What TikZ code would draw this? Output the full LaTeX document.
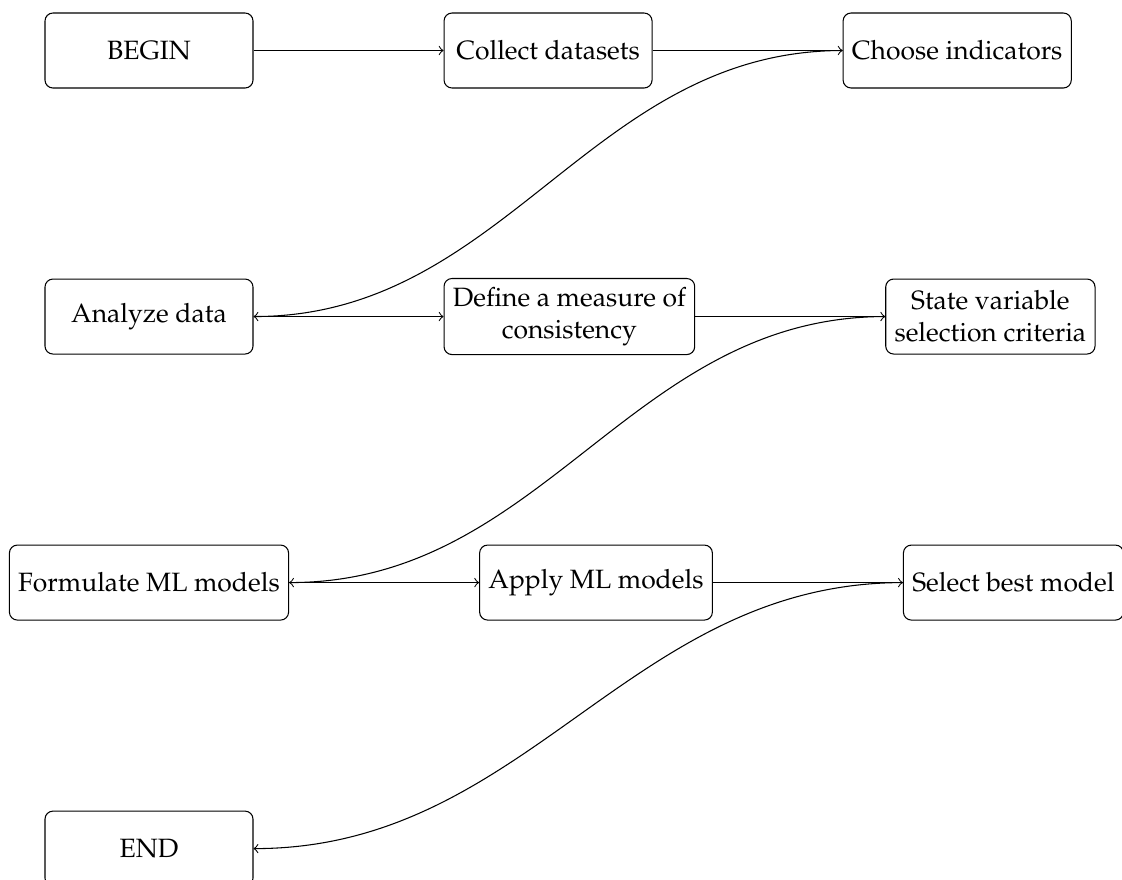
\documentclass[tikz,border=0pt]{standalone}
\usepackage[T1]{fontenc}
\usepackage{mathpazo}
\usetikzlibrary{positioning}
\tikzset{
  stepbox/.style={draw, rounded corners=3pt, minimum width=78.5pt, minimum height=28.3pt, align=center, inner sep=3.33pt, line width=0.4pt},
  link/.style={->, line width=0.4pt}
}
\begin{document}
\begin{tikzpicture}[x=0.3774pt, y=-0.3774pt, node distance=71.7pt]
\useasboundingbox (0,0) rectangle (1122,880);
\node[stepbox] (begin) at (149,50.5) {BEGIN};
\node[stepbox, right=of begin] (collect) {Collect datasets};
\node[stepbox, right=of collect] (choose) {Choose indicators};
\node[stepbox, below=of begin] (analyze) {Analyze data};
\node[stepbox, right=of analyze] (define) {Define a measure of\\consistency};
\node[stepbox, right=of define] (state) {State variable\\selection criteria};
\node[stepbox, below=of analyze] (formulate) {Formulate ML models};
\node[stepbox, right=of formulate] (apply) {Apply ML models};
\node[stepbox, right=of apply] (select) {Select best model};
\node[stepbox, below=of formulate] (end) {END};
\draw[link] (begin) -- (collect);
\draw[link] (collect) -- (choose);
\draw[link] (choose.west) to[out=180, in=0] (analyze.east);
\draw[link] (analyze) -- (define);
\draw[link] (define) -- (state);
\draw[link] (state.west) to[out=180, in=0] (formulate.east);
\draw[link] (formulate) -- (apply);
\draw[link] (apply) -- (select);
\draw[link] (select.west) to[out=180, in=0] (end.east);
\end{tikzpicture}
\end{document}
